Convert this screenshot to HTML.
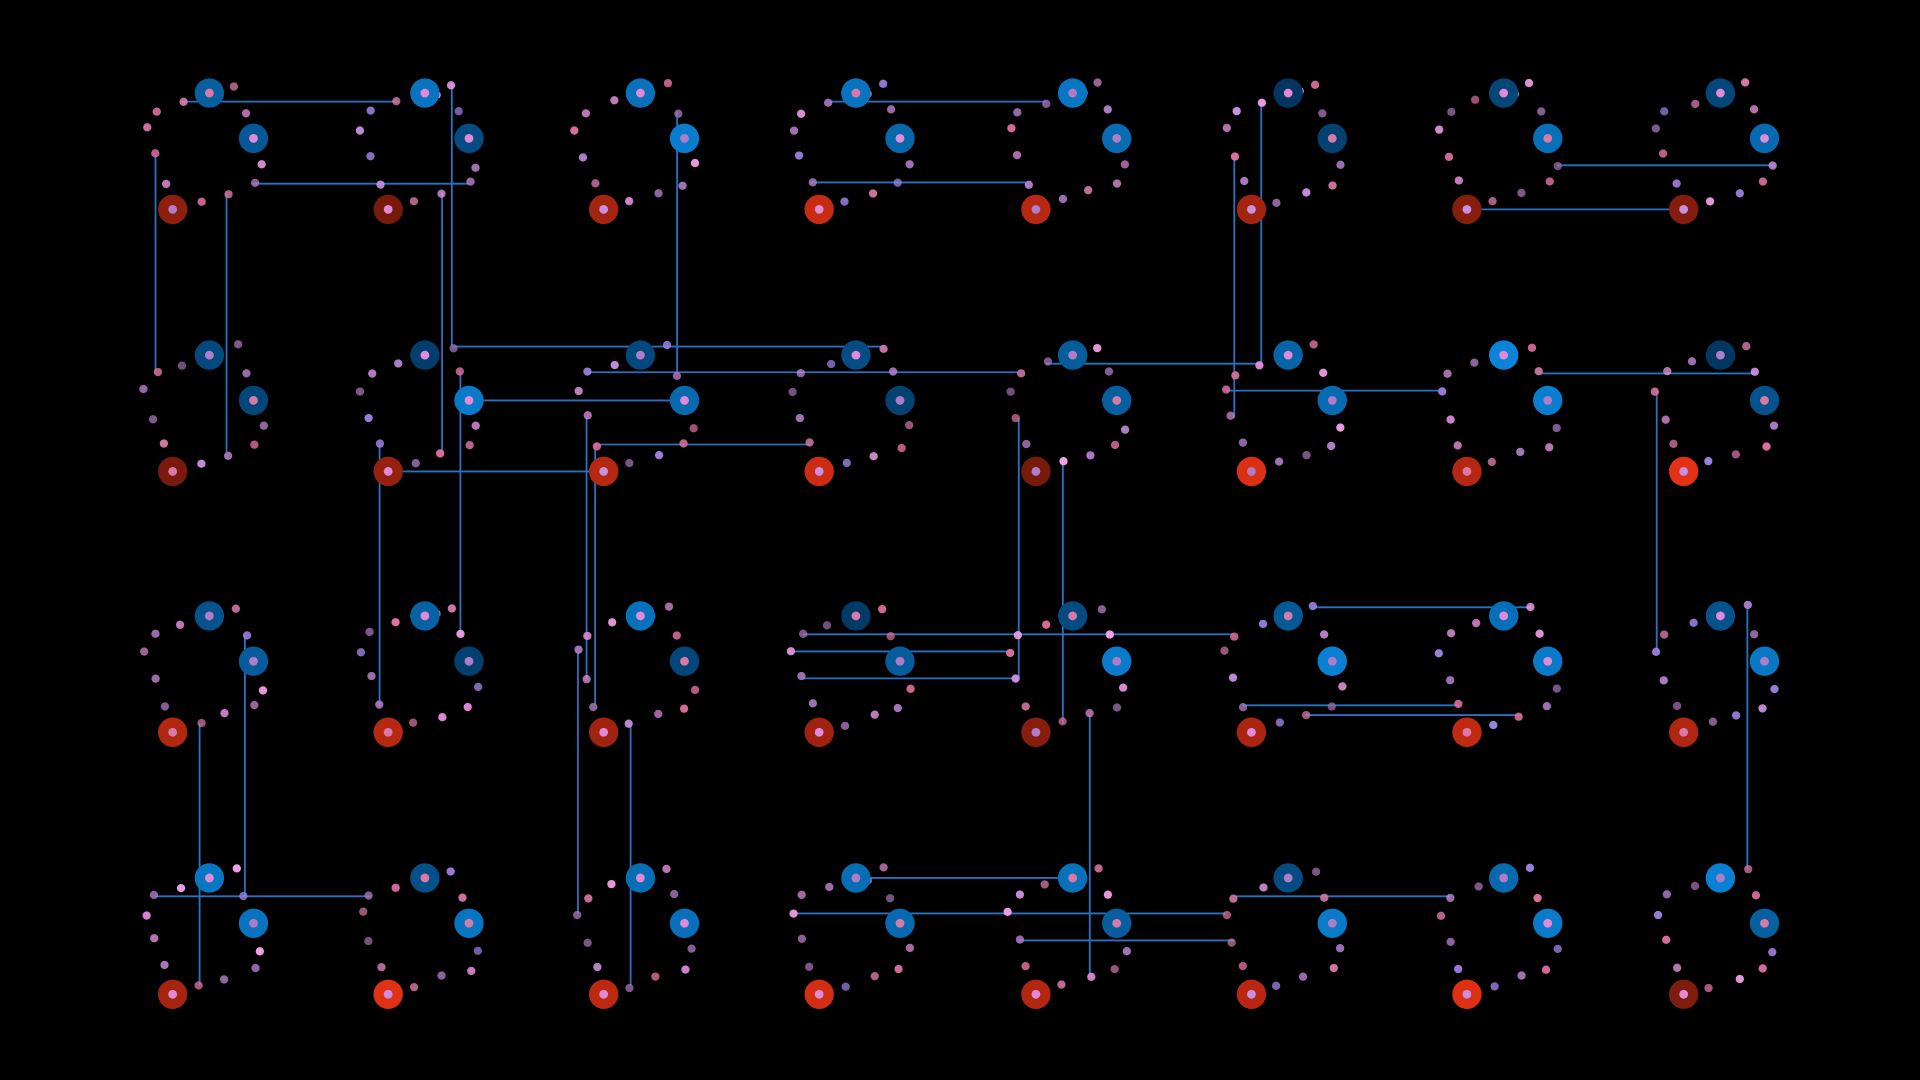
<!DOCTYPE html>
<html><head><meta charset="utf-8"><style>
html,body{margin:0;padding:0;background:#000;width:1920px;height:1080px;overflow:hidden}
svg{display:block}
</style></head><body>
<svg id="s" width="1920" height="1080" viewBox="0 0 1568 882" xmlns="http://www.w3.org/2000/svg">
<rect width="1568" height="882" fill="#000"/>
<g id="lines" stroke="#2a6fc0" stroke-width="1.5" fill="none"></g>
<g id="nodes"></g>
</svg>
<script>
var L=[[149,83,325,83],[207,150,383,150],[127,127,127,304],[185,157,185,371],[369,69,369,283],[361,157,361,371],
[678,83,854,83],[662,149,839,149],[553,91,553,304],[1030,83,1030,297],[1008,127,1008,341],[1272,135,1449,135],[1198,171,1375,171],
[369,283,722,283],[480,304,832,304],[384,327,560,327],[486,363,662,363],[317,385,493,385],[854,297,1030,297],[1001,319,1177,319],
[1258,305,1434,305],[1353,319,1353,532],[310,363,310,576],[376,304,376,518],[479,341,479,554],[486,363,486,576],[832,341,832,554],
[868,378,868,591],[656,518,1008,518],[649,532,825,532],[656,554,832,554],[1074,496,1250,496],[1015,576,1191,576],[1066,584,1243,584],
[1427,496,1427,710],[200,518,200,732],[163,591,163,805],[127,732,303,732],[472,532,472,746],[515,591,515,805],[890,584,890,798],
[700,717,876,717],[649,746,1001,746],[832,768,1008,768],[1008,732,1184,732]];
var ns="http://www.w3.org/2000/svg";
var lg=document.getElementById('lines'),ng=document.getElementById('nodes');
L.forEach(function(a){var l=document.createElementNS(ns,'line');l.setAttribute('x1',a[0]);l.setAttribute('y1',a[1]);l.setAttribute('x2',a[2]);l.setAttribute('y2',a[3]);lg.appendChild(l);});
var seed=7;function r(){seed=(seed*16807)%2147483647;return (seed-1)/2147483646;}
function c(x,y,rad,f,o){var e=document.createElementNS(ns,'circle');e.setAttribute('cx',x);e.setAttribute('cy',y);e.setAttribute('r',rad);e.setAttribute('fill',f);if(o!==undefined)e.setAttribute('opacity',o);ng.appendChild(e);}
var T=[[52,-102],[8,-88],[-14,-80],[-22,-66],[-15,-44],[-7,-22],[22,-7],[44,-14],[66,-21],[73,-36],[59,-80],[38,-95]];
var pal=['#e08ad8','#b07cc8','#d87aa8','#c890e0','#9a80e0','#e070a0','#a070b0','#f0a0e8'];
var xs=[141,317,493,669,846,1022,1198,1375],ys=[171,385,598,812];
ys.forEach(function(ry){xs.forEach(function(rx){
 T.forEach(function(t,i){if(i==11&&r()<0.6)return;c(rx+t[0]+(r()-0.5)*4,ry+t[1]+(r()-0.5)*4,3.4,pal[Math.floor(r()*pal.length)],0.7+r()*0.3);});
 var b1=0.15+r()*0.85,b2=0.15+r()*0.85,rr=0.2+r()*0.8;
 function blue(b){return 'rgb('+Math.round(10*b)+','+Math.round(40+95*b)+','+Math.round(75+145*b)+')';}
 c(rx+30,ry-95,12,blue(b1));c(rx+30,ry-95,3.6,pal[Math.floor(r()*3)]);
 c(rx+66,ry-58,12,blue(b2));c(rx+66,ry-58,3.6,pal[Math.floor(r()*3)]);
 c(rx,ry,12,'rgb('+Math.round(90+140*rr)+','+Math.round(20+30*rr)+','+Math.round(10+10*rr)+')');c(rx,ry,3.6,pal[Math.floor(r()*4)]);
});});
</script>
</body></html>
